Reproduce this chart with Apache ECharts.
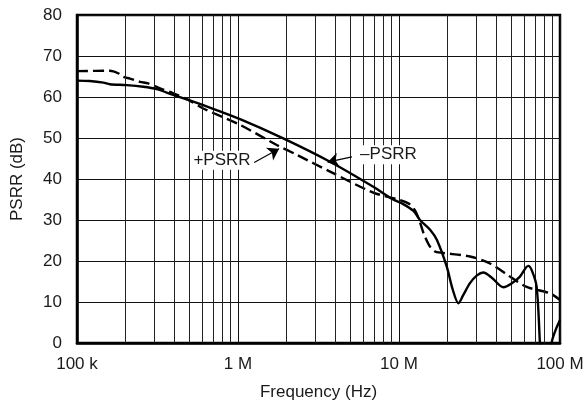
<!DOCTYPE html>
<html>
<head>
<meta charset="utf-8">
<script src="https://cdn.jsdelivr.net/npm/echarts@6/dist/echarts.min.js"></script>
<style>
  html, body { margin: 0; padding: 0; background: #fff; }
  #chart { width: 588px; height: 410px; }
</style>
</head>
<body>
<div id="chart"></div>
<script>
// PSRR versus frequency, log frequency axis (Hz), PSRR in dB
const minusPsrr = [
  [1e5, 64.0], [1.2e5, 63.9], [1.46e5, 63.5], [1.6e5, 63.1], [2.04e5, 62.9],
  [2.58e5, 62.5], [3.13e5, 61.9], [3.96e5, 60.5], [4.91e5, 59.3], [6.09e5, 58.0],
  [1.03e6, 54.6], [1.91e6, 49.9], [3.73e6, 44.2], [6.92e6, 38.1], [9.2e6, 35.0],
  [10.5e6, 34.0], [12.3e6, 32.2], [13.5e6, 30.0], [15.6e6, 27.6], [17.2e6, 25.1],
  [19.8e6, 18.6], [21.5e6, 13.2], [23.4e6, 9.7], [25e6, 11.6], [27.6e6, 14.6],
  [30.5e6, 16.5], [33.4e6, 17.2], [38e6, 15.8], [44.5e6, 13.6], [50e6, 14.5],
  [56.4e6, 16.2], [63.5e6, 18.8], [67e6, 17.6], [71.6e6, 13.7], [75e6, 0],
  [78e6, -15], [86e6, -15], [88.8e6, 0], [94e6, 3.2], [1e8, 5.6]
];

const plusPsrr = [
  [1e5, 66.3], [1.6e5, 66.4], [1.8e5, 65.8], [1.94e5, 64.9], [2.13e5, 64.5],
  [2.46e5, 63.7], [2.77e5, 63.3], [3.28e5, 62.1], [3.96e5, 60.9], [4.91e5, 59.3],
  [6.09e5, 57.2], [1.03e6, 53.2], [1.74e6, 48.3], [2.32e6, 45.9], [3.73e6, 41.8],
  [6.92e6, 36.7], [10.1e6, 34.9], [11.6e6, 33.9], [12.6e6, 32.3], [13.4e6, 29.8],
  [14.2e6, 26.8], [15.4e6, 23.8], [16.6e6, 22.4], [18.4e6, 22.0], [27.6e6, 21.1],
  [36.7e6, 19.4], [48.9e6, 16.2], [62.1e6, 13.7], [86.7e6, 12.1], [1e8, 10.5]
];

// decade tick labels
const freqTicks = [1e5, 1e6, 1e7, 1e8];
const freqTickLabels = ['100 k', '1 M', '10 M', '100 M'];

// intermediate log grid lines (2..9 within each decade)
const minorFreqs = [];
[1e5, 1e6, 1e7].forEach(function (d) {
  for (let m = 2; m <= 9; m++) minorFreqs.push(m * d);
});

// annotation text positions and arrows, in data units [Hz, dB]
const plusLabel = { text: '+PSRR', at: [7.95e5, 44.6], arrow: [[1.26e6, 44.0], [1.8e6, 47.4]] };
const minusLabel = { text: '\u2013PSRR', at: [8.6e6, 45.9], arrow: [[5.1e6, 45.4], [3.6e6, 44.1]] };

const FONT = 'Liberation Sans, Arial, Helvetica, sans-serif';
const chart = echarts.init(document.getElementById('chart'), null, { renderer: 'canvas' });

function annotation(lbl) {
  return {
    type: 'line',
    data: [],
    z: 6,
    silent: true,
    markPoint: {
      silent: true,
      symbol: 'circle',
      symbolSize: 0,
      data: [{ coord: lbl.at }],
      label: {
        show: true,
        position: 'inside',
        formatter: lbl.text,
        fontFamily: FONT,
        fontSize: 17,
        color: '#1a1a1a',
        backgroundColor: '#fff',
        padding: [1, 3]
      }
    },
    markLine: {
      silent: true,
      symbol: ['none', 'arrow'],
      symbolSize: 11,
      label: { show: false },
      itemStyle: { color: '#000' },
      lineStyle: { color: '#000', width: 1.2, type: 'solid' },
      data: [[{ coord: lbl.arrow[0] }, { coord: lbl.arrow[1] }]]
    }
  };
}

chart.setOption({
  animation: false,
  backgroundColor: '#fff',
  grid: {
    left: 77, right: 28, top: 15, bottom: 67,
    show: true, borderColor: '#000', borderWidth: 2.5, backgroundColor: 'transparent'
  },
  xAxis: {
    type: 'log',
    logBase: 10,
    min: 1e5,
    max: 1e8,
    name: 'Frequency (Hz)',
    nameLocation: 'middle',
    nameGap: 41,
    nameTextStyle: { fontFamily: FONT, fontSize: 17, color: '#1a1a1a' },
    axisLine: { show: true, lineStyle: { color: '#000', width: 2.5 } },
    axisTick: { show: false },
    axisLabel: {
      fontFamily: FONT, fontSize: 17, color: '#1a1a1a', margin: 13,
      showMinLabel: true, showMaxLabel: true,
      formatter: function (v) {
        const i = freqTicks.findIndex(function (t) { return Math.abs(Math.log10(t) - Math.log10(v)) < 1e-6; });
        return i >= 0 ? freqTickLabels[i] : '';
      }
    },
    splitLine: { show: true, lineStyle: { color: '#111', width: 1 } }
  },
  yAxis: {
    type: 'value',
    min: 0,
    max: 80,
    interval: 10,
    name: 'PSRR (dB)',
    nameLocation: 'middle',
    nameGap: 51,
    nameTextStyle: { fontFamily: FONT, fontSize: 17, color: '#1a1a1a' },
    axisLine: { show: true, lineStyle: { color: '#000', width: 2.5 } },
    axisTick: { show: false },
    axisLabel: { fontFamily: FONT, fontSize: 17, color: '#1a1a1a', margin: 15 },
    splitLine: { show: true, lineStyle: { color: '#111', width: 1 } }
  },
  series: [
    {
      // intermediate frequency grid lines
      type: 'line',
      data: [],
      z: 1,
      silent: true,
      markLine: {
        silent: true,
        symbol: ['none', 'none'],
        label: { show: false },
        lineStyle: { color: '#222', width: 1, type: 'solid' },
        data: minorFreqs.map(function (f) { return { xAxis: f }; })
      }
    },
    {
      name: '+PSRR',
      type: 'line',
      data: plusPsrr,
      z: 4,
      showSymbol: false,
      smooth: 0.3,
      clip: true,
      lineStyle: { color: '#000', width: 2.4, type: [11, 5] }
    },
    {
      name: '-PSRR',
      type: 'line',
      data: minusPsrr,
      z: 5,
      showSymbol: false,
      smooth: 0.3,
      clip: true,
      lineStyle: { color: '#000', width: 2.4, type: 'solid' }
    },
    annotation(plusLabel),
    annotation(minusLabel)
  ]
});
</script>
</body>
</html>
